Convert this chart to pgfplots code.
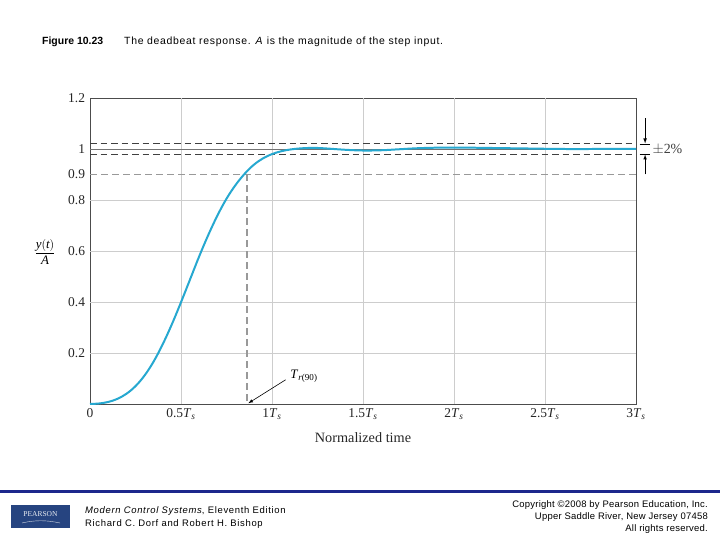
\documentclass[border=0pt]{standalone}
\usepackage{pgfplots}
\pgfplotsset{compat=1.18}
\usepackage{fontspec}
\setmainfont{Liberation Serif}
\newfontfamily\arial{Liberation Sans}
\newfontfamily\arialT[LetterSpace=6.6]{Liberation Sans}
\newfontfamily\arialL[LetterSpace=7]{Liberation Sans}
\newfontfamily\arialR[LetterSpace=2.5]{Liberation Sans}
\definecolor{curve}{RGB}{38,168,208}
\definecolor{pblue}{RGB}{28,40,140}
\definecolor{logo}{RGB}{38,68,128}
\definecolor{gridc}{RGB}{205,205,205}
\newcommand{\Ts}{\textit{T}\textsubscript{\textit{s}}}
\begin{document}
\begin{tikzpicture}[x=1bp,y=1bp]
\useasboundingbox (0,0) rectangle (720,540);
\fill[white] (0,0) rectangle (720,540);
\begin{axis}[at={(90bp,136bp)}, anchor=south west, scale only axis,
  width=546bp, height=306bp, xmin=0, xmax=3, ymin=0, ymax=1.2,
  axis line style={draw=black!70, line width=0.8pt},
  clip=false,
  major tick length=0pt,
  xtick={0,0.5,1,1.5,2,2.5,3},
  xticklabels={0,0.5\Ts,1\Ts,1.5\Ts,2\Ts,2.5\Ts,3\Ts},
  ytick={0.2,0.4,0.6,0.8,0.9,1,1.2},
  yticklabels={0.2,0.4,0.6,0.8,0.9,1,1.2},
  /pgf/number format/assume math mode=true,
  ticklabel style={font=\fontsize{13.5}{14}\selectfont, text=black!85},
  yticklabel style={xshift=-1.5bp},
  xticklabel style={yshift=-1bp},
  axis on top=false]
% grid
\foreach \x in {0.5,1,1.5,2,2.5}{
  \edef\tmp{\noexpand\draw[gridc, line width=0.8pt] (axis cs:\x,0) -- (axis cs:\x,1.2);}\tmp }
\foreach \y in {0.2,0.4,0.6,0.8}{
  \edef\tmp{\noexpand\draw[gridc, line width=0.8pt] (axis cs:0,\y) -- (axis cs:3,\y);}\tmp }
\draw[black!55, line width=0.8pt] (axis cs:0,1) -- (axis cs:3,1);
\draw[black!75, line width=0.8pt, dash pattern=on 6.5bp off 4bp] (axis cs:0,1.02) -- (axis cs:3,1.02);
\draw[black!75, line width=0.8pt, dash pattern=on 6.5bp off 4bp] (axis cs:0,0.98) -- (axis cs:3,0.98);
\draw[black!40, line width=1.2pt, dash pattern=on 7bp off 4bp] (axis cs:0,0.9) -- (axis cs:3,0.9);
\draw[black!40, line width=1.2pt, dash pattern=on 7bp off 4bp] (axis cs:0.863,0.9) -- (axis cs:0.863,0);
\addplot[curve, line width=2pt, smooth, tension=0.6] coordinates {
(0,0) (0.05,0.002) (0.1,0.008) (0.15,0.020) (0.2,0.040) (0.25,0.070) (0.3,0.112)
(0.35,0.167) (0.4,0.235) (0.45,0.313) (0.5,0.399) (0.55,0.489) (0.6,0.579)
(0.65,0.663) (0.7,0.739) (0.75,0.805) (0.8,0.859) (0.85,0.903) (0.9,0.938)
(0.95,0.963) (1.0,0.980) (1.05,0.991) (1.1,0.998) (1.15,1.002) (1.2,1.004)
(1.25,1.004) (1.3,1.002) (1.4,0.997) (1.5,0.994) (1.6,0.995) (1.7,0.999)
(1.8,1.003) (1.9,1.005) (2.0,1.005) (2.1,1.005) (2.2,1.004) (2.4,1.002)
(2.6,1.0) (2.8,1.0) (3.0,1.0)};
% +-2% annotation
\draw[black, line width=0.6pt] (axis cs:3.02,1.02) -- (axis cs:3.078,1.02);
\draw[black, line width=0.6pt] (axis cs:3.02,0.98) -- (axis cs:3.078,0.98);
\draw[black, line width=0.7pt, -latex] (axis cs:3.05,1.12) -- (axis cs:3.05,1.022);
\draw[black, line width=0.7pt, -latex] (axis cs:3.05,0.9) -- (axis cs:3.05,0.978);
\node[anchor=west, inner sep=0pt, font=\fontsize{14}{14}\selectfont, text=black!75] at (axis cs:3.09,1.0) {$\pm$2\%};
% T_r(90) annotation
\draw[black, line width=0.6pt, -latex] (axis cs:1.075,0.095) -- (axis cs:0.87,0.003);
\node[anchor=west, inner sep=0pt, font=\fontsize{13}{13}\selectfont] at (axis cs:1.1,0.11) {\textit{T}\textsubscript{\textit{r}(90)}};
\end{axis}
% axis labels
\node[font=\fontsize{14.3}{15}\selectfont, text=black!85] at (363,102) {Normalized time};
\node[font=\fontsize{13}{13}\selectfont] at (45,288) {$\displaystyle\frac{\textit{y}(\textit{t})}{\textit{A}}$};
% title
\node[anchor=base west, inner sep=0pt, font=\arial\bfseries\fontsize{10.5}{11}\selectfont] at (42,495) {Figure 10.23};
\node[anchor=base west, inner sep=0pt, font=\arialT\fontsize{10.5}{11}\selectfont] at (124,495) {The deadbeat response. \textit{A} is the magnitude of the step input.};
% footer
\fill[pblue] (0,46.5) rectangle (720,50);
\fill[logo] (11,12) rectangle (70,35);
\node[text=white!90!logo, font=\fontsize{7.5}{8}\selectfont] at (40.5,26) {PEARSON};
\draw[white!80!logo, line width=0.4pt] (22,17) .. controls (35,20) and (46,20) .. (60,17);
\node[anchor=base west, inner sep=0pt, font=\arialL\fontsize{9.5}{10}\selectfont] at (85,26) {\textit{Modern Control Systems}, Eleventh Edition};
\node[anchor=base west, inner sep=0pt, font=\arialL\fontsize{9.5}{10}\selectfont] at (85,13) {Richard C. Dorf and Robert H. Bishop};
\node[anchor=base east, inner sep=0pt, font=\arialR\fontsize{9.5}{10}\selectfont] at (708,32) {Copyright \textcopyright 2008 by Pearson Education, Inc.};
\node[anchor=base east, inner sep=0pt, font=\arialR\fontsize{9.5}{10}\selectfont] at (708,20) {Upper Saddle River, New Jersey 07458};
\node[anchor=base east, inner sep=0pt, font=\arialR\fontsize{9.5}{10}\selectfont] at (708,8) {All rights reserved.};
\end{tikzpicture}
\end{document}
